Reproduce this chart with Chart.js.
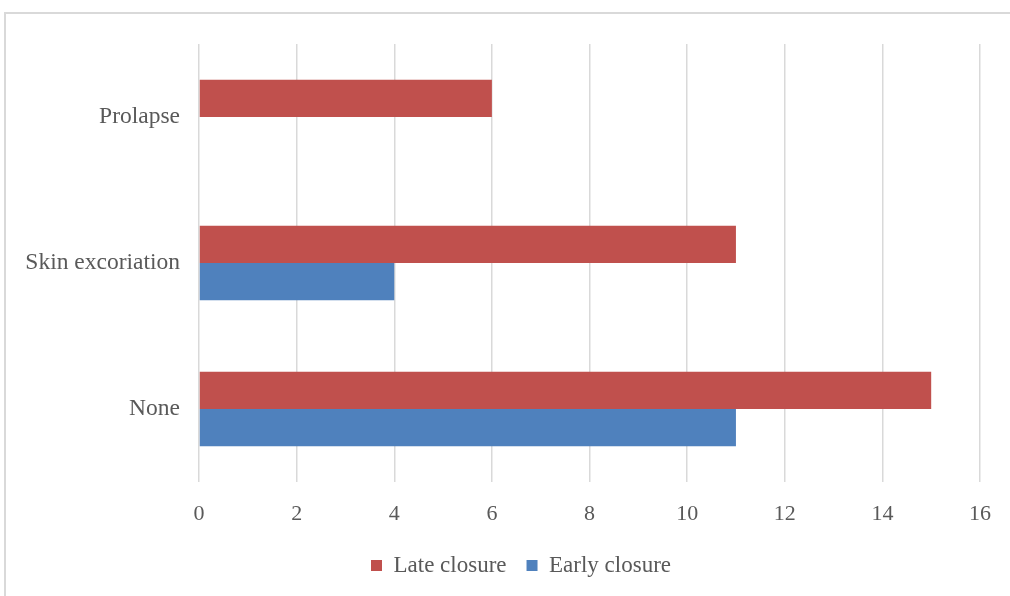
<!DOCTYPE html>
<html>
<head>
<meta charset="utf-8">
<script src="https://cdn.jsdelivr.net/npm/chart.js@4/dist/chart.umd.min.js"></script>
<style>
  html, body { margin: 0; padding: 0; background: #fff; }
  #frame {
    position: absolute; left: 4px; top: 12px; width: 1020px; height: 600px;
    border: 2px solid #d9d9d9; box-sizing: border-box;
  }
  #wrap { position: absolute; left: 0; top: 0; width: 1010px; height: 596px; }
</style>
</head>
<body>
<div id="frame"></div>
<div id="wrap"><canvas id="chart"></canvas></div>
<script>
const categories = ["Prolapse", "Skin excoriation", "None"];
const lateClosure = [6, 11, 15];
const earlyClosure = [0, 4, 11];
const xTicks = [0, 2, 4, 6, 8, 10, 12, 14, 16];

const textColor = "#595959";
const serif = "'Liberation Serif', 'Times New Roman', serif";

// the original legend sits a bit right of centre
const shiftLegend = {
  id: "shiftLegend",
  afterLayout(chart) {
    if (chart.legend) {
      chart.legend.left += 31;
      chart.legend.right += 31;
    }
  },
};

const ctx = document.getElementById("chart").getContext("2d");
new Chart(ctx, {
  type: "bar",
  data: {
    labels: categories,
    datasets: [
      {
        label: "Late closure",
        data: lateClosure,
        backgroundColor: "#C0504D",
        barPercentage: 1.0,
        categoryPercentage: 0.51,
      },
      {
        label: "Early closure",
        data: earlyClosure,
        backgroundColor: "#4F81BD",
        barPercentage: 1.0,
        categoryPercentage: 0.51,
      },
    ],
  },
  options: {
    indexAxis: "y",
    responsive: true,
    maintainAspectRatio: false,
    animation: false,
    layout: { padding: { top: 44, right: 30, left: 0, bottom: 9 } },
    plugins: {
      tooltip: { enabled: false },
      legend: {
        position: "bottom",
        labels: {
          color: textColor,
          font: { family: serif, size: 23 },
          boxWidth: 11,
          boxHeight: 11,
          padding: 20,
        },
      },
    },
    scales: {
      x: {
        min: 0,
        max: 16,
        afterBuildTicks: (scale) => {
          scale.ticks = xTicks.map((v) => ({ value: v }));
        },
        grid: { color: "#d9d9d9", lineWidth: 1.5, drawTicks: false },
        border: { display: false },
        ticks: { color: textColor, font: { family: serif, size: 22 }, padding: 19 },
        afterFit: (scale) => { scale.height = 52; },
      },
      y: {
        grid: { display: false, drawTicks: false },
        border: { display: false },
        ticks: { color: textColor, font: { family: serif, size: 23.5 }, padding: 19 },
        afterFit: (scale) => { scale.width = 199; },
      },
    },
  },
  plugins: [shiftLegend],
});
</script>
</body>
</html>
